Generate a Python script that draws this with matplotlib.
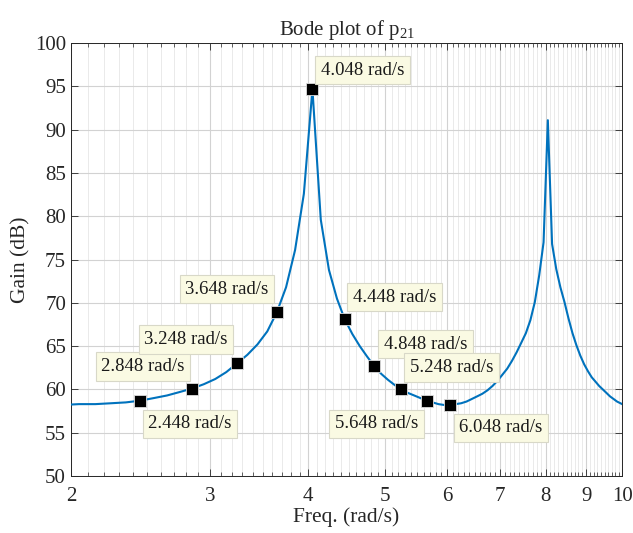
import numpy as np
import matplotlib
matplotlib.use("Agg")
import matplotlib.pyplot as plt
from matplotlib.ticker import FixedLocator, NullFormatter, NullLocator

plt.rcParams['font.family'] = ['Liberation Serif', 'DejaVu Serif']
plt.rcParams['mathtext.fontset'] = 'custom'
plt.rcParams['mathtext.rm'] = 'Liberation Serif'
plt.rcParams['mathtext.it'] = 'Liberation Serif:italic'

# frequency samples (rad/s) and gain (dB)
freq = [1.948, 2.048, 2.148, 2.248, 2.348, 2.448, 2.548, 2.648, 2.748, 2.848,
        2.948, 3.048, 3.148, 3.248, 3.348, 3.448, 3.548, 3.648, 3.748, 3.848,
        3.948, 4.048, 4.148, 4.248, 4.348, 4.448, 4.548, 4.648, 4.748, 4.848,
        4.948, 5.048, 5.148, 5.248, 5.348, 5.448, 5.548, 5.648, 5.748, 5.848,
        5.948, 6.048, 6.148, 6.248, 6.348, 6.448, 6.548, 6.648, 6.748, 6.848,
        6.948, 7.048, 7.148, 7.248, 7.348, 7.448, 7.548, 7.648, 7.748, 7.848,
        7.948, 8.048, 8.148, 8.248, 8.348, 8.448, 8.548, 8.648, 8.748, 8.848,
        8.948, 9.048, 9.148, 9.248, 9.348, 9.448, 9.548, 9.648, 9.748, 9.848,
        9.948, 10.048]
gain = [58.2, 58.3, 58.3, 58.4, 58.5, 58.7, 59.0, 59.3, 59.7, 60.1,
        60.6, 61.2, 62.0, 63.0, 64.0, 65.2, 66.7, 68.9, 71.8, 76.1,
        82.6, 94.7, 79.6, 73.8, 70.5, 68.1, 66.4, 65.0, 63.8, 62.7,
        61.8, 61.1, 60.5, 60.0, 59.6, 59.3, 59.0, 58.7, 58.5, 58.3,
        58.2, 58.2, 58.3, 58.4, 58.6, 58.9, 59.2, 59.5, 59.9, 60.4,
        61.0, 61.7, 62.4, 63.3, 64.3, 65.4, 66.5, 68.0, 70.1, 73.2,
        77.0, 91.1, 76.8, 73.9, 71.8, 70.1, 68.2, 66.5, 65.1, 63.9,
        62.9, 62.1, 61.4, 60.9, 60.4, 60.0, 59.6, 59.2, 58.9, 58.6,
        58.4, 58.2]

# data tips
tip_freq = [2.448, 2.848, 3.248, 3.648, 4.048, 4.448, 4.848, 5.248, 5.648, 6.048]
tip_gain = [58.7, 60.1, 63.1, 68.9, 94.7, 68.1, 62.7, 60.0, 58.7, 58.2]
tip_text = ['%.3f rad/s' % f for f in tip_freq]
# label offsets in pixels (right, up)
tip_off = [(50, -23), (-49, 22), (-51, 23), (-50, 23), (50, 19),
           (50, 22), (51, 22), (50, 22), (-50, -23), (51, -23)]

fig = plt.figure(figsize=(6.33, 5.33), dpi=100)
ax = fig.add_axes([0.112, 0.107, 0.871, 0.812])

ax.plot(freq, gain, color='#0072BD', lw=1.5, zorder=3)
ax.plot(tip_freq, tip_gain, 's', color='k', ms=8, mec='#dddddd', mew=0.6, zorder=4)

ax.set_xscale('log')
ax.set_xlim(2, 10)
ax.set_ylim(50, 100)

ax.xaxis.set_major_locator(FixedLocator([2, 3, 4, 5, 6, 7, 8, 9, 10]))
ax.xaxis.set_major_formatter(plt.FuncFormatter(lambda v, p: '%d' % round(v)))
minor = [round(2 + 0.1 * i, 1) for i in range(81)]
ax.xaxis.set_minor_locator(FixedLocator(minor))
ax.xaxis.set_minor_formatter(NullFormatter())
ax.set_yticks(np.arange(50, 101, 5))
ax.yaxis.set_minor_locator(NullLocator())

ax.grid(True, which='major', color='#d2d2d2', lw=0.8)
ax.grid(True, which='minor', axis='x', color='#e6e6e6', lw=0.6)
ax.set_axisbelow(True)

ax.tick_params(which='both', direction='in', top=True, right=True, colors='#262626',
               labelsize=15)
ax.tick_params(which='major', length=5, width=0.6)
ax.tick_params(which='minor', length=3, width=0.5)
ax.tick_params(axis='x', pad=8)
for s in ax.spines.values():
    s.set_color('#262626')
    s.set_linewidth(0.7)

ax.set_xlabel('Freq. (rad/s)', fontsize=15.5, color='#262626', labelpad=1)
ax.set_ylabel('Gain (dB)', fontsize=15.5, color='#262626', labelpad=3)
ax.set_title(r'Bode plot of p$_{21}$', fontsize=15, color='#262626', pad=6)

for f, g, t, (dx, dy) in zip(tip_freq, tip_gain, tip_text, tip_off):
    ax.annotate(t, (f, g), xytext=(dx * 0.72, dy * 0.72), textcoords='offset points',
                ha='center', va='center', fontsize=13.5, color='#1a1a1a', zorder=5,
                bbox=dict(boxstyle='square,pad=0.3', fc='#FAFAE3', ec='#d8d8c8', lw=0.8))

fig.savefig('out.png', dpi=100)
